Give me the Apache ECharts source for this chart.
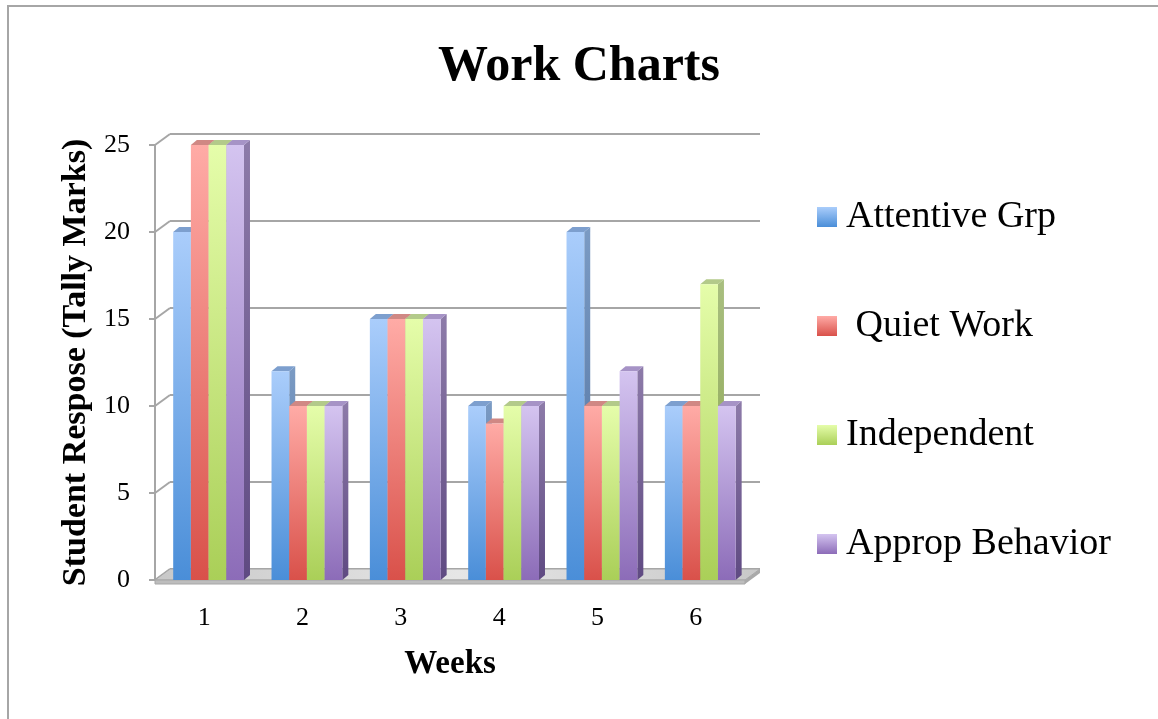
<!DOCTYPE html>
<html>
<head>
<meta charset="utf-8">
<script src="https://cdn.jsdelivr.net/npm/echarts@6/dist/echarts.min.js"></script>
<style>
  html, body { margin: 0; padding: 0; background: #fff; overflow: hidden; }
  #chart { width: 1158px; height: 719px; }
</style>
</head>
<body>
<div id="chart"></div>
<script>
// data
const weeks = ['1', '2', '3', '4', '5', '6'];
const attentiveGrp = [20, 12, 15, 10, 20, 10];
const quietWork = [25, 10, 15, 9, 10, 10];
const independent = [25, 10, 15, 10, 10, 17];
const appropBehavior = [25, 10, 15, 10, 12, 10];
const yTicks = [0, 5, 10, 15, 20, 25];

const FONT = '"Liberation Serif", "DejaVu Serif", serif';
const GRID = { left: 155, right: 413, top: 145, bottom: 139 };
const DEPTH_X = 15, DEPTH_Y = 11;   // wall depth
const BAR_DX = 6, BAR_DY = 5;       // bar depth

// front / side / top colours per series
const palette = [
  { front: ['#aacdfb', '#4a8ed8'], side: ['#7b9bc4', '#4d6f9e'], top: '#7d9fce' },
  { front: ['#ffaba6', '#d9514a'], side: ['#c07a76', '#9c4a45'], top: '#d08884' },
  { front: ['#e5fdaa', '#aacf58'], side: ['#a9bf80', '#86a048'], top: '#b3ca8a' },
  { front: ['#d4c4f0', '#8c6cb8'], side: ['#8d7ba9', '#5f4a82'], top: '#a693c6' }
];

function grad(stops) {
  return {
    type: 'linear', x: 0, y: 0, x2: 0, y2: 1,
    colorStops: [{ offset: 0, color: stops[0] }, { offset: 1, color: stops[1] }]
  };
}

function barRenderer(k) {
  const c = palette[k];
  return function (params, api) {
    const idx = api.value(0);
    const top = api.coord([idx, api.value(1)]);
    const base = api.coord([idx, 0]);
    const bandW = api.size([1, 0])[0];
    const w = bandW * 0.18;
    const x = top[0] - 2 * w + bandW * 0.045 + k * w;
    const y = top[1], b = base[1];
    return {
      type: 'group',
      children: [
        {
          type: 'polygon',
          shape: { points: [[x + w, y], [x + w + BAR_DX, y - BAR_DY], [x + w + BAR_DX, b - BAR_DY], [x + w, b]] },
          style: { fill: grad(c.side) }
        },
        {
          type: 'polygon',
          shape: { points: [[x, y], [x + w, y], [x + w + BAR_DX, y - BAR_DY], [x + BAR_DX, y - BAR_DY]] },
          style: { fill: c.top }
        },
        {
          type: 'rect',
          shape: { x: x, y: y, width: w, height: b - y },
          style: { fill: grad(c.front) }
        }
      ]
    };
  };
}

const seriesData = [
  ['Attentive Grp', attentiveGrp],
  [' Quiet Work', quietWork],
  ['Independent', independent],
  ['Approp Behavior', appropBehavior]
];

const barSeries = seriesData.map(([name, vals], k) => ({
  name: name,
  type: 'custom',
  xAxisIndex: 0,
  yAxisIndex: 0,
  z: 4,
  clip: false,
  itemStyle: { color: grad(palette[k].front) },
  renderItem: barRenderer(k),
  encode: { x: 0, y: 1 },
  data: vals.map((v, i) => [i, v])
}));

const chart = echarts.init(document.getElementById('chart'), null, { renderer: 'canvas' });

chart.setOption({
  animation: false,
  backgroundColor: '#fff',
  graphic: [{
    type: 'rect', silent: true, z: -1,
    shape: { x: 8, y: 6, width: 1400, height: 900 },
    style: { fill: 'none', stroke: '#a6a6a6', lineWidth: 2 }
  }],
  title: {
    text: 'Work Charts',
    left: 'center',
    top: 37,
    textStyle: { fontFamily: FONT, fontSize: 50, fontWeight: 'bold', color: '#000' }
  },
  legend: {
    orient: 'vertical',
    left: 817,
    top: 198,
    padding: 0,
    itemWidth: 20,
    itemHeight: 20,
    itemGap: 71,
    icon: 'rect',
    data: seriesData.map(s => s[0]),
    textStyle: { fontFamily: FONT, fontSize: 38, lineHeight: 38, color: '#000', padding: [0, 0, 0, 4] }
  },
  grid: [
    GRID,
    {
      left: GRID.left + DEPTH_X, right: GRID.right - DEPTH_X,
      top: GRID.top - DEPTH_Y, bottom: GRID.bottom + DEPTH_Y
    }
  ],
  xAxis: [
    {
      type: 'category',
      data: weeks,
      gridIndex: 0,
      axisLine: { show: false },
      axisTick: { show: false },
      axisLabel: { fontFamily: FONT, fontSize: 26, color: '#000', margin: 25 },
      name: 'Weeks',
      nameLocation: 'middle',
      nameGap: 68,
      nameTextStyle: { fontFamily: FONT, fontSize: 33, fontWeight: 'bold', color: '#000' }
    },
    {
      type: 'category',
      data: weeks,
      gridIndex: 1,
      show: false
    }
  ],
  yAxis: [
    {
      type: 'value',
      gridIndex: 0,
      min: 0, max: 25, interval: 5,
      axisLine: { show: true, lineStyle: { color: '#a6a6a6', width: 2 } },
      axisTick: { show: true, length: 6, lineStyle: { color: '#a6a6a6', width: 2 } },
      splitLine: { show: false },
      axisLabel: { fontFamily: FONT, fontSize: 26, color: '#000', margin: 25 },
      name: 'Student Respose (Tally Marks)',
      nameLocation: 'middle',
      nameGap: 62,
      nameTextStyle: { fontFamily: FONT, fontSize: 34, fontWeight: 'bold', color: '#000' }
    },
    {
      type: 'value',
      gridIndex: 1,
      min: 0, max: 25, interval: 5,
      axisLine: { show: false },
      axisTick: { show: false },
      axisLabel: { show: false },
      splitLine: { show: true, lineStyle: { color: '#a6a6a6', width: 2 } }
    }
  ],
  series: [
    {
      // left wall: joins each front tick to its back gridline
      type: 'custom',
      xAxisIndex: 0,
      yAxisIndex: 0,
      z: 1,
      silent: true,
      clip: false,
      renderItem: function (params, api) {
        const p = api.coord([0, api.value(0)]);
        const x0 = params.coordSys.x;
        return {
          type: 'line',
          shape: { x1: x0, y1: p[1], x2: x0 + DEPTH_X, y2: p[1] - DEPTH_Y },
          style: { stroke: '#a6a6a6', lineWidth: 2 }
        };
      },
      encode: { y: 0 },
      data: yTicks.map(v => [v])
    },
    {
      // floor slab
      type: 'custom',
      xAxisIndex: 0,
      yAxisIndex: 0,
      z: 2,
      silent: true,
      clip: false,
      renderItem: function (params, api) {
        const cs = params.coordSys;
        const y = api.coord([0, 0])[1];
        const xl = cs.x, xr = cs.x + cs.width;
        return {
          type: 'group',
          children: [
            {
              type: 'polygon',
              shape: { points: [[xl, y], [xr, y], [xr + DEPTH_X, y - DEPTH_Y], [xl + DEPTH_X, y - DEPTH_Y]] },
              style: {
                fill: { type: 'linear', x: 0, y: 0, x2: 1, y2: 0, colorStops: [
                  { offset: 0, color: '#c8c8c8' }, { offset: 0.5, color: '#e6e6e6' }, { offset: 1, color: '#c8c8c8' }
                ] },
                stroke: '#a6a6a6', lineWidth: 1
              }
            },
            {
              type: 'polygon',
              shape: { points: [[xl, y], [xr, y], [xr, y + 4], [xl, y + 4]] },
              style: { fill: '#bdbdbd', stroke: '#a6a6a6', lineWidth: 1 }
            },
            {
              type: 'polygon',
              shape: { points: [[xr, y], [xr + DEPTH_X, y - DEPTH_Y], [xr + DEPTH_X, y - DEPTH_Y + 4], [xr, y + 4]] },
              style: { fill: '#a9a9a9' }
            }
          ]
        };
      },
      data: [[0]]
    }
  ].concat(barSeries)
});
</script>
</body>
</html>
